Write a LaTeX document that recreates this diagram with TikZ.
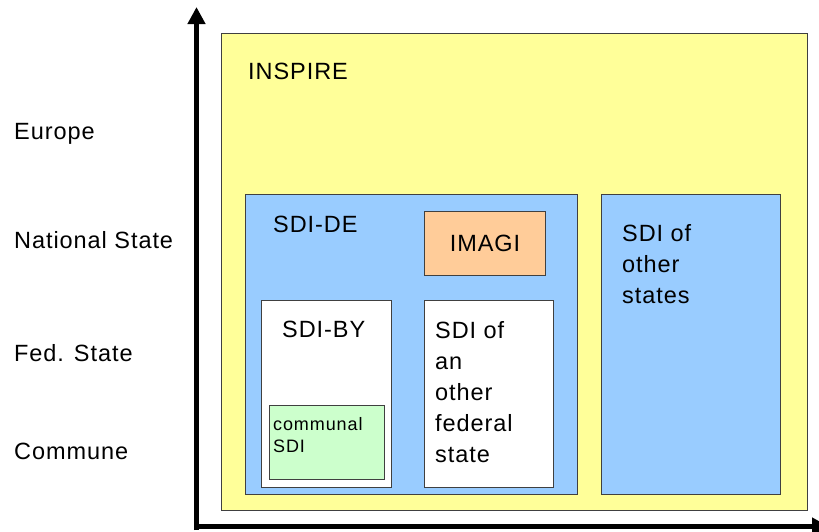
\documentclass[tikz,border=0pt]{standalone}
\usepackage{fontspec}
\setmainfont{Liberation Sans}[LetterSpace=4]
\newfontfamily\smallfont{Liberation Sans}[LetterSpace=5]
\usetikzlibrary{arrows.meta}
\definecolor{inspire}{HTML}{FFFF99}
\definecolor{sdiblue}{HTML}{99CCFF}
\definecolor{imagi}{HTML}{FFCC99}
\definecolor{communal}{HTML}{CCFFCC}
\definecolor{edge}{HTML}{404040}
\tikzset{
  box/.style={draw=edge, line width=1pt},
  lbl/.style={anchor=west, inner sep=0pt, font=\fontsize{23.5}{31}\selectfont, align=left},
  small/.style={anchor=west, inner sep=0pt, font=\smallfont\fontsize{18}{22}\selectfont, align=left},
  axis/.style={line width=5pt, -{Triangle[width=17pt,length=17pt]}}
}
\begin{document}
\begin{tikzpicture}[x=1pt,y=-1pt]
\useasboundingbox (0,0) rectangle (819,531);
% boxes
\draw[box, fill=inspire] (221.5,33.5) rectangle (807.5,510.5);
\draw[box, fill=sdiblue] (245.5,194.5) rectangle (577.5,494.5);
\draw[box, fill=sdiblue] (601.5,194.5) rectangle (780.5,494.5);
\draw[box, fill=imagi] (424.5,211.5) rectangle (545.5,275.5);
\draw[box, fill=white] (261.5,300.5) rectangle (391.5,487.5);
\draw[box, fill=white] (424.5,300.5) rectangle (553.5,487.5);
\draw[box, fill=communal] (269.5,405.5) rectangle (384.5,479.5);
% axes
\coordinate (origin) at (196.5,530);
\coordinate (ytip) at (196.5,7);
\coordinate (xorigin) at (194,526.5);
\coordinate (xtip) at (829,526.5);
\draw[axis] (origin) -- (ytip);
\draw[axis] (xorigin) -- (xtip);
% level labels
\node[lbl] (eu) at (14,134) {Europe};
\node[lbl] (ns) at (14,240) {National State};
\node[lbl] (fs) at (14,353) {Fed. State};
\node[lbl] (co) at (14,451) {Commune};
% box labels
\node[lbl] (inspire) at (248,71) {INSPIRE};
\node[lbl] (sdide) at (273,224) {SDI-DE};
\node[lbl, anchor=center] (imagit) at (485,243) {IMAGI};
\node[lbl] (sdiby) at (282,329) {SDI-BY};
\node[lbl, anchor=north west] (other) at (435,321) {SDI of\\an\\other\\federal\\state};
\node[lbl, anchor=north west] (others) at (622,224) {SDI of\\other\\states};
\node[small, anchor=north west] (comm) at (273,417.5) {communal\\SDI};
\end{tikzpicture}
\end{document}
